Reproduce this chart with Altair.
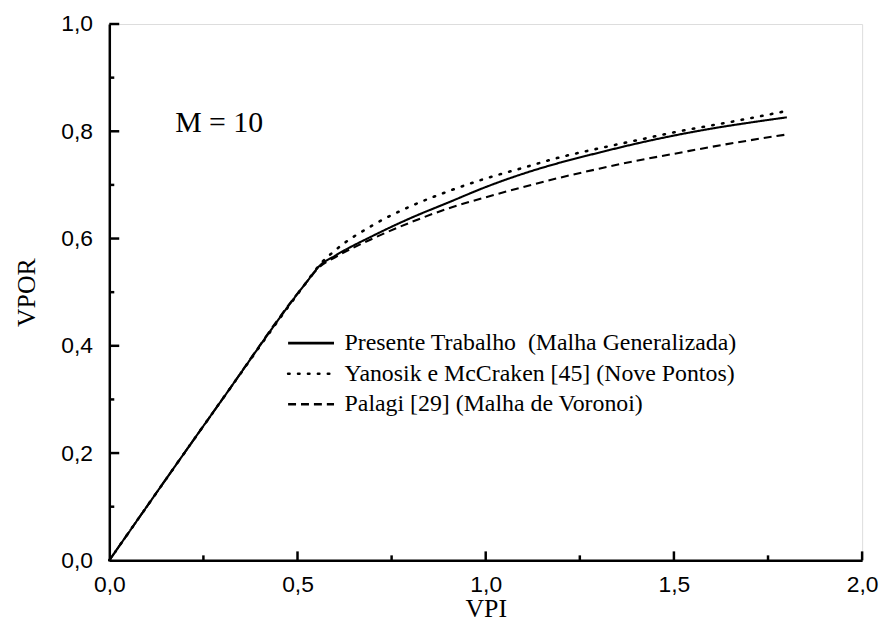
import altair as alt
import pandas as pd

# ---- data ----
vpi = [0.0, 0.30, 0.52, 0.56, 0.60, 0.70, 0.80, 0.90, 1.00, 1.10, 1.20, 1.30, 1.40, 1.50, 1.60, 1.70, 1.80]
presente = [0.0, 0.30, 0.515, 0.550, 0.568, 0.605, 0.638, 0.667, 0.696, 0.721, 0.742, 0.760, 0.777, 0.792, 0.805, 0.816, 0.826]
yanosik = [0.0, 0.30, 0.515, 0.552, 0.578, 0.625, 0.660, 0.688, 0.712, 0.732, 0.752, 0.768, 0.783, 0.798, 0.811, 0.824, 0.838]
palagi = [0.0, 0.30, 0.515, 0.548, 0.565, 0.600, 0.630, 0.656, 0.677, 0.696, 0.714, 0.730, 0.745, 0.758, 0.771, 0.783, 0.794]

series_names = ["Presente Trabalho\u00a0 (Malha Generalizada)",
                "Yanosik e McCraken [45] (Nove Pontos)",
                "Palagi [29] (Malha de Voronoi)"]
series_values = [presente, yanosik, palagi]
dashes = [[1, 0], [1.5, 8.5], [8, 5]]

x_ticks = [0.0, 0.5, 1.0, 1.5, 2.0]
y_ticks = [0.0, 0.2, 0.4, 0.6, 0.8, 1.0]
x_major = [0.5, 1.0, 1.5, 2.0]
x_minor = [0.25, 0.75, 1.25, 1.75]
y_major = [0.2, 0.4, 0.6, 0.8, 1.0]
y_minor = [0.1, 0.3, 0.5, 0.7, 0.9]

legend_y = [0.405, 0.348, 0.291]
legend_x0, legend_x1, legend_tx = 0.475, 0.597, 0.625
annotation = "M = 10"
annotation_pos = (0.175, 0.815)

W, H = 758, 540
SERIF = "Times New Roman, Liberation Serif, serif"
SANS = "Arial, Liberation Sans, sans-serif"

xs = alt.Scale(domain=[0, 2.0], nice=False, zero=False)
ys = alt.Scale(domain=[0, 1.0], nice=False, zero=False)
label_expr = "replace(format(datum.value, '.1f'), '.', ',')"

xaxis = alt.Axis(values=x_ticks, labelExpr=label_expr, title="VPI", grid=False, ticks=False,
                 labelFlush=False, labelOverlap=False,
                 domainColor="black", domainWidth=2.5, labelFont=SANS, labelFontSize=23,
                 labelColor="black", labelPadding=13, titleFont=SERIF, titleFontSize=26,
                 titleFontWeight="normal", titleColor="black", titlePadding=0)
yaxis = alt.Axis(values=y_ticks, labelExpr=label_expr, title="VPOR", grid=False, ticks=False,
                 labelFlush=False, labelOverlap=False,
                 domainColor="black", domainWidth=2.5, labelFont=SANS, labelFontSize=23,
                 labelColor="black", labelPadding=17, titleFont=SERIF, titleFontSize=26,
                 titleFontWeight="normal", titleColor="black", titlePadding=21)

rows = []
for name, vals in zip(series_names, series_values):
    for x, y in zip(vpi, vals):
        rows.append({"VPI": x, "VPOR": y, "serie": name})
df = pd.DataFrame(rows)

base_axes = alt.Chart(pd.DataFrame({"VPI": [0.0], "VPOR": [0.0]})).mark_point(opacity=0).encode(
    x=alt.X("VPI:Q", scale=xs, axis=xaxis),
    y=alt.Y("VPOR:Q", scale=ys, axis=yaxis),
)

layers = [base_axes]
for name, d in zip(series_names, dashes):
    sub = df[df.serie == name]
    dotted = d == dashes[1]
    layers.append(
        alt.Chart(sub).mark_line(color="black", strokeWidth=2.6 if dotted else 2.1,
                                 strokeDash=d, strokeCap="round" if dotted else "butt",
                                 interpolate="monotone").encode(
            x=alt.X("VPI:Q", scale=xs), y=alt.Y("VPOR:Q", scale=ys))
    )

# inward ticks
tx = pd.DataFrame({"v": x_major + x_minor, "len": [9] * len(x_major) + [5] * len(x_minor)})
ty = pd.DataFrame({"v": y_major + y_minor, "len": [10] * len(y_major) + [5] * len(y_minor)})
for _, r in tx.iterrows():
    layers.append(alt.Chart(pd.DataFrame({"v": [r.v]})).mark_rule(color="black", strokeWidth=2.5).encode(
        x=alt.X("v:Q", scale=xs), y=alt.value(H), y2=alt.value(H - r.len)))
for _, r in ty.iterrows():
    layers.append(alt.Chart(pd.DataFrame({"v": [r.v]})).mark_rule(color="black", strokeWidth=2.5).encode(
        y=alt.Y("v:Q", scale=ys), x=alt.value(0), x2=alt.value(r.len)))

# legend
leg = pd.DataFrame({"x0": [legend_x0] * 3, "x1": [legend_x1] * 3, "tx": [legend_tx] * 3,
                    "y": legend_y, "name": series_names})
for i, d in enumerate(dashes):
    dotted = i == 1
    layers.append(alt.Chart(leg.iloc[[i]]).mark_rule(color="black", strokeWidth=2.6, strokeDash=d,
                                                     strokeCap="round" if dotted else "butt").encode(
        x=alt.X("x0:Q", scale=xs), x2="x1:Q", y=alt.Y("y:Q", scale=ys)))
layers.append(alt.Chart(leg).mark_text(align="left", baseline="middle", font=SERIF,
                                       fontSize=24, color="black").encode(
    x=alt.X("tx:Q", scale=xs), y=alt.Y("y:Q", scale=ys), text="name:N"))

ann = pd.DataFrame({"x": [annotation_pos[0]], "y": [annotation_pos[1]], "t": [annotation]})
layers.append(alt.Chart(ann).mark_text(align="left", baseline="middle", font=SERIF,
                                       fontSize=30, color="black").encode(
    x=alt.X("x:Q", scale=xs), y=alt.Y("y:Q", scale=ys), text="t:N"))

chart = alt.layer(*layers).properties(
    width=W, height=H, autosize="none",
    padding={"left": 102, "top": 14, "right": 18, "bottom": 64},
).configure_view(stroke=None).configure(background="white")

chart.save("out.html", embed_options={"renderer": "svg", "actions": False})
